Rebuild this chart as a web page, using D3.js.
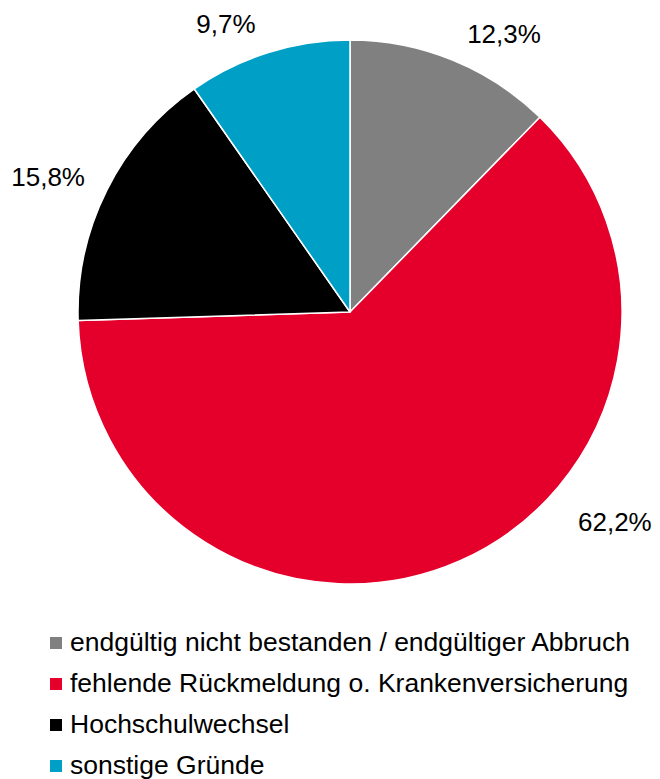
<!DOCTYPE html>
<html><head><meta charset="utf-8">
<script src="https://cdn.jsdelivr.net/npm/d3@7"></script>
<style>body{margin:0;background:#fff}svg{display:block}text{font-family:"Liberation Sans",Arial,sans-serif;fill:#000}</style>
</head><body>
<svg id="c" width="660" height="779"></svg>
<script>
const categories = ["endgültig nicht bestanden / endgültiger Abbruch","fehlende Rückmeldung o. Krankenversicherung","Hochschulwechsel","sonstige Gründe"];
const values = [12.3, 62.2, 15.8, 9.7];
const labels = ["12,3%","62,2%","15,8%","9,7%"];
const colors = ["#808080","#E4002B","#000000","#00A0C6"];

const svg = d3.select("#c");
const cx = 350, cy = 312, R = 272;
const pie = d3.pie().sort(null).value(d=>d)(values);
const arc = d3.arc().innerRadius(0).outerRadius(R);
const g = svg.append("g").attr("transform",`translate(${cx},${cy})`);
g.selectAll("path").data(pie).join("path")
  .attr("d",arc).attr("fill",(d,i)=>colors[i])
  .attr("stroke","#fff").attr("stroke-width",1.5).attr("stroke-linejoin","round");

// label placement (layout): polar angle (deg, clockwise from top) and radius
const labelAng = [28.9, 128.4, 294.2, 336.7];
const labelRad = [318.7, 338, 331, 313.6];
g.selectAll("text.lbl").data(pie).join("text").attr("class","lbl")
  .attr("text-anchor","middle").attr("font-size",26)
  .attr("x",(d,i)=>Math.sin(labelAng[i]*Math.PI/180)*labelRad[i])
  .attr("y",(d,i)=>-Math.cos(labelAng[i]*Math.PI/180)*labelRad[i]+9.5)
  .text((d,i)=>labels[i]);

const leg = svg.append("g");
const y0 = 651, dy = 41;
categories.forEach((c,i)=>{
  leg.append("rect").attr("x",50).attr("y",y0+i*dy-14).attr("width",12).attr("height",12).attr("fill",colors[i]);
  leg.append("text").attr("x",70).attr("y",y0+i*dy).attr("font-size",26.5).text(c);
});
</script>
</body></html>
